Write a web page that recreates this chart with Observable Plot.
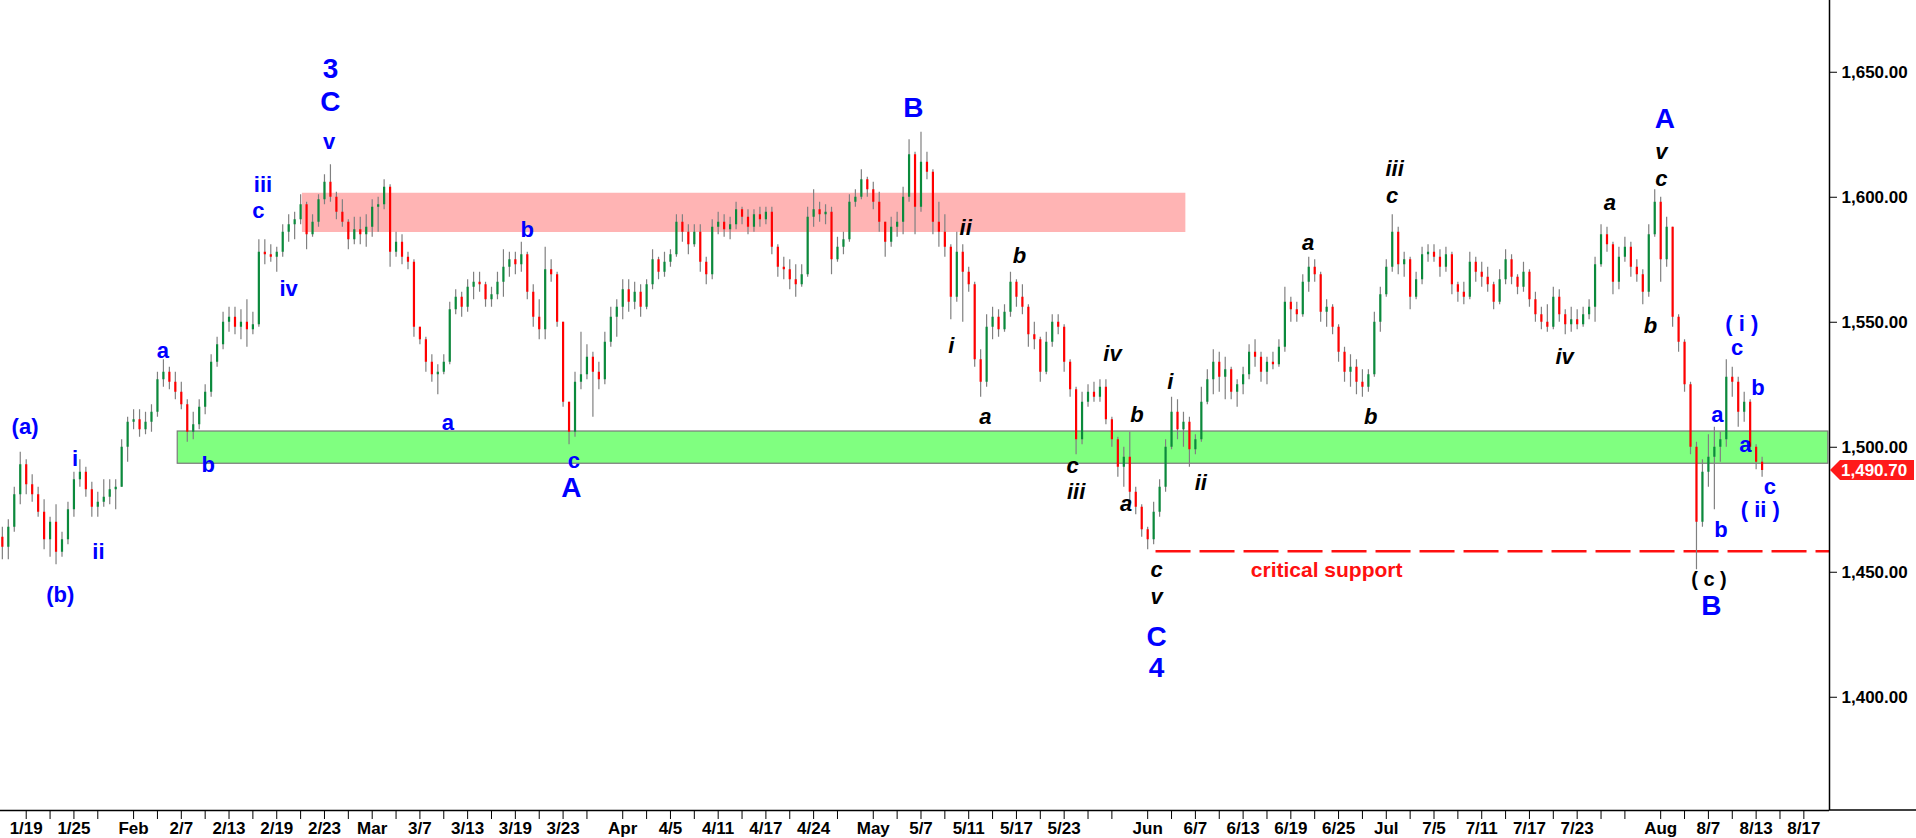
<!DOCTYPE html>
<html><head><meta charset="utf-8">
<script src="https://cdn.jsdelivr.net/npm/d3@7"></script>
<script src="https://cdn.jsdelivr.net/npm/@observablehq/plot@0.6"></script>
<style>html,body{margin:0;padding:0;background:#fff;overflow:hidden}#chart{width:1916px;height:838px}</style>
</head><body><div id="chart"></div>
<script>
// Half-day candles [open, high, low, close], grouped by month (candle index continues across arrays)
const jan = [
[1464,1468,1455,1460],[1460,1471,1455,1468],[1468,1484,1466,1481],[1481,1498,1477,1493],[1493,1495,1481,1485],
[1485,1489,1478,1481],[1481,1484,1472,1474],[1474,1479,1459,1463],[1463,1472,1456,1470],[1470,1477,1453,1458],
[1458,1466,1456,1463],[1463,1478,1461,1475],[1475,1490,1472,1487],[1487,1495,1484,1490],[1490,1492,1480,1483],
[1483,1486,1472,1476],[1476,1482,1472,1478],[1478,1487,1476,1480],[1480,1487,1477,1483],[1483,1487,1475,1484],
[1484,1503,1484,1500],[1500,1512,1494,1510]];
const feb = [
[1510,1515,1507,1511],[1511,1515,1504,1507],[1507,1514,1505,1510],[1510,1517,1506,1514],[1514,1530,1512,1527],
[1527,1535,1524,1530],[1530,1532,1523,1526],[1526,1530,1519,1522],[1522,1526,1515,1517],[1517,1519,1502,1506],
[1506,1514,1503,1509],[1509,1519,1507,1516],[1516,1525,1513,1522],[1522,1537,1520,1534],[1534,1544,1532,1541],
[1541,1554,1539,1550],[1550,1556,1546,1552],[1552,1556,1545,1548],[1548,1555,1543,1550],[1550,1559,1540,1547],
[1547,1554,1545,1549],[1549,1583,1548,1578],[1578,1583,1573,1577],[1577,1581,1574,1576],[1576,1580,1570,1578],
[1578,1589,1576,1586],[1586,1593,1582,1589],[1589,1594,1583,1591],[1591,1601,1589,1597],[1597,1598,1579,1585],
[1585,1593,1584,1590],[1590,1601,1588,1599],[1599,1609,1597,1606],[1606,1613,1598,1600],[1600,1602,1591,1594],
[1594,1599,1588,1590],[1590,1591,1579,1583],[1583,1592,1581,1587],[1587,1592,1581,1585],[1585,1593,1580,1588]];
const mar = [
[1588,1599,1584,1596],[1596,1600,1586,1597],[1597,1607,1595,1604],[1604,1605,1572,1578],[1578,1586,1576,1582],
[1582,1585,1573,1576],[1576,1578,1571,1574],[1574,1575,1544,1548],[1548,1548,1541,1543],[1543,1544,1530,1534],
[1534,1537,1526,1529],[1529,1533,1521,1530],[1530,1537,1529,1534],[1534,1558,1533,1555],[1555,1563,1553,1560],
[1560,1562,1552,1556],[1556,1567,1554,1564],[1564,1570,1559,1566],[1566,1570,1562,1565],[1565,1566,1556,1559],
[1559,1564,1556,1561],[1561,1570,1559,1566],[1566,1579,1560,1572],[1572,1578,1568,1575],[1575,1578,1569,1573],
[1573,1582,1570,1577],[1577,1578,1559,1562],[1562,1565,1548,1552],[1552,1559,1543,1547],[1547,1580,1543,1571],
[1571,1575,1566,1569],[1569,1570,1548,1550],[1550,1550,1516,1518],[1518,1518,1501,1506],[1506,1530,1504,1526],
[1526,1546,1523,1529],[1529,1541,1527,1536],[1536,1538,1512,1530],[1530,1534,1523,1527],[1527,1546,1525,1542],
[1542,1556,1540,1552],[1552,1559,1544,1556]];
const apr = [
[1556,1567,1551,1563],[1563,1567,1554,1558],[1558,1566,1555,1562],[1562,1565,1552,1556],[1556,1567,1555,1565],
[1565,1579,1563,1575],[1575,1576,1567,1570],[1570,1578,1568,1574],[1574,1579,1572,1577],[1577,1593,1576,1590],
[1590,1593,1582,1586],[1586,1589,1577,1581],[1581,1589,1580,1586],[1586,1589,1570,1574],[1574,1576,1565,1569],
[1569,1591,1567,1588],[1588,1594,1585,1590],[1590,1593,1584,1587],[1587,1592,1583,1589],[1589,1598,1587,1595],
[1595,1596,1589,1592],[1592,1595,1585,1588],[1588,1595,1586,1593],[1593,1596,1588,1591],[1591,1596,1589,1594],
[1594,1596,1577,1580],[1580,1581,1568,1572],[1572,1576,1567,1571],[1571,1575,1563,1567],[1567,1573,1560,1565],
[1565,1573,1564,1569],[1569,1596,1568,1592],[1592,1603,1588,1595],[1595,1598,1590,1593],[1593,1597,1589,1594],
[1594,1596,1569,1575],[1575,1584,1574,1580],[1580,1586,1577,1583],[1583,1601,1582,1598],[1598,1603,1596,1600],
[1600,1611,1599,1607],[1607,1608,1600,1603]];
const may = [
[1603,1606,1595,1598],[1598,1602,1586,1590],[1590,1590,1576,1582],[1582,1592,1580,1588],[1588,1594,1584,1590],
[1590,1604,1585,1600],[1600,1623,1598,1617],[1617,1618,1585,1596],[1596,1626,1594,1614],[1614,1618,1607,1610],
[1610,1611,1585,1590],[1590,1598,1580,1586],[1586,1593,1576,1580],[1580,1581,1551,1560],[1560,1586,1558,1578],
[1578,1581,1550,1570],[1570,1572,1562,1565],[1565,1566,1532,1535],[1535,1539,1520,1526],[1526,1553,1524,1548],
[1548,1556,1543,1552],[1552,1555,1544,1547],[1547,1557,1546,1554],[1554,1570,1552,1566],[1566,1567,1556,1560],
[1560,1565,1553,1556],[1556,1557,1540,1545],[1545,1550,1539,1543],[1543,1544,1526,1530],[1530,1546,1529,1542],
[1542,1553,1540,1550],[1550,1553,1545,1548],[1548,1549,1530,1534],[1534,1535,1520,1523],[1523,1524,1497,1503],
[1503,1522,1501,1518],[1518,1525,1516,1522],[1522,1526,1518,1520],[1520,1527,1518,1524],[1524,1527,1509,1511],
[1511,1512,1500,1503],[1503,1504,1488,1492],[1492,1500,1484,1496],[1496,1506,1478,1482],[1482,1484,1473,1476],
[1476,1477,1464,1467]];
const jun = [
[1467,1468,1459,1463],[1463,1478,1461,1474],[1474,1487,1472,1484],[1484,1503,1482,1500],[1500,1520,1499,1514],
[1514,1519,1503,1507],[1507,1514,1500,1510],[1510,1512,1492,1499],[1499,1505,1497,1503],[1503,1524,1502,1518],
[1518,1531,1517,1527],[1527,1539,1521,1534],[1534,1538,1522,1528],[1528,1536,1519,1531],[1531,1532,1519,1522],
[1522,1527,1516,1525],[1525,1532,1521,1529],[1529,1541,1527,1538],[1538,1543,1532,1536],[1536,1538,1526,1530],
[1530,1536,1525,1534],[1534,1538,1531,1533],[1533,1543,1532,1540],[1540,1564,1538,1558],[1558,1560,1550,1555],
[1555,1558,1550,1553],[1553,1569,1552,1566],[1566,1576,1562,1572],[1572,1575,1566,1569],[1569,1570,1550,1554],
[1554,1559,1548,1556],[1556,1557,1545,1548],[1548,1549,1534,1538],[1538,1540,1526,1530],[1530,1537,1524,1532],
[1532,1535,1521,1526],[1526,1531,1520,1524],[1524,1531,1522,1529],[1529,1554,1528,1550],[1550,1564,1546,1561]];
const jul = [
[1561,1575,1560,1572],[1572,1593,1570,1586],[1586,1588,1569,1573],[1573,1578,1568,1575],[1575,1576,1555,1560],
[1560,1570,1559,1567],[1567,1580,1565,1577],[1577,1581,1574,1578],[1578,1581,1574,1576],[1576,1579,1568,1572],
[1572,1580,1570,1577],[1577,1578,1561,1565],[1565,1566,1558,1562],[1562,1566,1557,1560],[1560,1578,1559,1574],
[1574,1576,1566,1570],[1570,1574,1564,1568],[1568,1572,1562,1565],[1565,1566,1555,1558],[1558,1571,1557,1567],
[1567,1579,1565,1575],[1575,1577,1565,1568],[1568,1569,1561,1564],[1564,1574,1562,1570],[1570,1571,1556,1559],
[1559,1562,1550,1553],[1553,1556,1547,1550],[1550,1557,1546,1548],[1548,1564,1547,1560],[1560,1563,1550,1553],
[1553,1555,1545,1549],[1549,1556,1546,1551],[1551,1555,1547,1549],[1549,1556,1548,1553],[1553,1559,1551,1556],
[1556,1576,1550,1573],[1573,1589,1572,1585],[1585,1588,1578,1581],[1581,1582,1561,1566],[1566,1580,1563,1576],
[1576,1584,1574,1580],[1580,1582,1568,1572],[1572,1575,1566,1569],[1569,1571,1557,1562],[1562,1589,1560,1585],
[1585,1603,1584,1598]];
const aug = [
[1598,1600,1566,1575],[1575,1592,1572,1588],[1588,1588,1548,1552],[1552,1553,1538,1542],[1542,1543,1522,1525],
[1525,1526,1497,1500],[1500,1502,1451,1470],[1470,1495,1468,1490],[1490,1505,1484,1496],[1496,1508,1475,1500],
[1500,1506,1494,1503],[1503,1535,1500,1528],[1528,1532,1520,1526],[1526,1528,1508,1514],[1514,1522,1510,1518],
[1518,1519,1498,1500],[1500,1501,1491,1494],[1494,1496,1488,1490.7]];

// x-axis: label text and trading-day number (1/19 = day 0)
const xTickLabels = ["1/19","1/25","Feb","2/7","2/13","2/19","2/23","Mar","3/7","3/13","3/19","3/23","Apr","4/5","4/11","4/17","4/24","May","5/7","5/11","5/17","5/23","Jun","6/7","6/13","6/19","6/25","Jul","7/5","7/11","7/17","7/23","Aug","8/7","8/13","8/17"];
const xTickDays = [0,4,9,13,17,21,25,29,33,37,41,45,50,54,58,62,66,71,75,79,83,87,94,98,102,106,110,114,118,122,126,130,137,141,145,149];
const yTicks = [1400,1450,1500,1550,1600,1650];

// zones and support [from candle index, to candle index, low, high]
const resistanceZone = [50.3, 198.4, 1585.9, 1601.6];
const supportZone = [29.4, 306.1, 1493.4, 1506.3];
const criticalSupport = [193.4, 306.3, 1458.4];

// wave labels [text, candle index, price]
const blueWave = [["(a)",3.8,1508],["(b)",9.7,1441],["i",12.2,1495.5],["ii",16.1,1458.3],["a",26.9,1538.4],["b",34.5,1493],
["iii",43.7,1604.9],["c",42.9,1594.7],["iv",48,1563.4],["v",54.8,1622],["a",74.7,1509.6],["b",88,1586.8],["c",95.8,1494.4],
["( i )",291.6,1549.2],["c",290.8,1539.9],["b",294.3,1523.8],["a",287.5,1513],["a",292.2,1500.8],["b",288.1,1467.1],["c",296.3,1484.2],["( ii )",294.7,1474.9]];
const blueDegree = [["3",55,1651.4],["C",55,1638.2],["A",95.4,1483.7],["B",152.7,1635.7],["C",193.5,1424],["4",193.5,1411.8],["A",278.7,1631.3],["B",286.5,1436.6]];
const blackWave = [["ii",161.5,1587.8],["i",159.1,1540.4],["b",170.5,1576.6],["a",164.8,1512],["iv",186.1,1537.4],["b",190.2,1513],
["c",179.4,1492.5],["iii",180,1482.2],["a",188.4,1477.3],["i",195.8,1526.2],["ii",200.9,1485.6],["c",193.5,1450.9],["v",193.5,1440.2],
["a",218.9,1581.9],["b",229.4,1512],["iii",233.4,1611.3],["c",233,1600.5],["iv",261.9,1536],["a",269.5,1597.6],["b",276.3,1548.7],
["v",278.1,1618.1],["c",278.1,1607.4]];
const blackPlain = [["( c )",286.1,1447.2]];
const supportText = [["critical support",222,1450.9]];

const W = 1916, H = 838;
const FONT = "'Liberation Sans', Arial, Helvetica, sans-serif";
const candles = [...jan,...feb,...mar,...apr,...may,...jun,...jul,...aug].map((d,i)=>({k:i,o:d[0],h:d[1],l:d[2],c:d[3]}));
const last = candles[candles.length-1].c;
const toK = d => 2*d + 4;
const majorK = xTickDays.map(toK);
const labelOf = new Map(majorK.map((k,i)=>[k, xTickLabels[i]]));
const minorK = [];
xTickDays.forEach((d,i)=>{ const nx = xTickDays[i+1] ?? 151; for(let t=d+2; nx - t >= 2; t+=2) minorK.push(toK(t)); });
const lab = a => a.map(([t,k,v])=>({t,k,v}));
const X0 = -0.31, X1 = 306.3, Y0 = 1354.7, Y1 = 1678.7;

const plot = Plot.plot({
  width: W, height: H,
  marginLeft: 0, marginRight: 87, marginTop: 0, marginBottom: 28,
  style: {fontFamily: FONT, background: "#fff", overflow: "visible"},
  x: {type: "linear", domain: [X0, X1]},
  y: {type: "linear", domain: [Y0, Y1]},
  color: {type: "identity"},
  marks: [
    Plot.rect([resistanceZone], {x1: d=>d[0], x2: d=>d[1], y1: d=>d[2], y2: d=>d[3], fill: "#ffb4b4"}),
    Plot.rect([supportZone], {x1: d=>d[0], x2: d=>d[1], y1: d=>d[2], y2: d=>d[3], fill: "#80ff80", stroke: "#7a7a7a", strokeWidth: 1.2}),
    Plot.ruleY([criticalSupport], {y: d=>d[2], x1: d=>d[0], x2: d=>d[1], stroke: "#ff1010", strokeWidth: 2.5, strokeDasharray: "35,9"}),
    Plot.ruleX(candles, {x: "k", y1: "l", y2: "h", stroke: "#808080", strokeWidth: 1.2}),
    Plot.ruleX(candles, {x: "k", y1: "o", y2: "c", stroke: d => d.c >= d.o ? "#0b8a3c" : "#ff0000", strokeWidth: 2.2}),
    Plot.text(lab(blueWave), {x: "k", y: "v", text: "t", fill: "#0000ff", fontSize: 22, fontWeight: "bold"}),
    Plot.text(lab(blueDegree), {x: "k", y: "v", text: "t", fill: "#0000ff", fontSize: 28, fontWeight: "bold"}),
    Plot.text(lab(blackWave), {x: "k", y: "v", text: "t", fill: "#000", fontSize: 22, fontWeight: "bold", fontStyle: "italic"}),
    Plot.text(lab(blackPlain), {x: "k", y: "v", text: "t", fill: "#000", fontSize: 20, fontWeight: "bold"}),
    Plot.text(lab(supportText), {x: "k", y: "v", text: "t", fill: "#ff1010", fontSize: 21, fontWeight: "bold"}),
    Plot.ruleX([X1], {stroke: "#000", strokeWidth: 1.5}),
    Plot.ruleY([Y0], {stroke: "#000", strokeWidth: 1.5}),
    Plot.axisX({ticks: majorK, tickFormat: k => labelOf.get(k), tickSize: 9, tickPadding: 2, fontSize: 17, fontWeight: "bold", fill: "#000", label: null}),
    Plot.axisX({ticks: minorK, tickFormat: () => "", tickSize: 9, label: null}),
    Plot.axisY({anchor: "right", ticks: yTicks, tickFormat: d3.format(",.2f"), tickSize: 7, tickPadding: 5, fontSize: 17, fontWeight: "bold", fill: "#000", label: null})
  ]
});

// extend the bottom axis line under the price scale and add the last-price tag
const svg = d3.select(plot);
const xs = plot.scale("x"), ys = plot.scale("y");
const xr = xs.range[1], yb = ys.range[0];
svg.append("line").attr("x1", xr).attr("x2", W).attr("y1", yb).attr("y2", yb).attr("stroke", "#000").attr("stroke-width", 1.5);
const yl = ys.apply(last);
svg.append("path")
  .attr("d", `M${xr+1},${yl} L${xr+11},${yl-10} L${W-2},${yl-10} L${W-2},${yl+10} L${xr+11},${yl+10} Z`)
  .attr("fill", "#ff1a1a");
svg.append("text").attr("x", xr+12).attr("y", yl).attr("dy", "0.36em")
  .attr("text-anchor", "start")
  .attr("fill", "#fff").attr("font-family", FONT).attr("font-size", 17).attr("font-weight", "bold")
  .text(d3.format(",.2f")(last));

document.getElementById("chart").appendChild(plot);
</script>
</body></html>
